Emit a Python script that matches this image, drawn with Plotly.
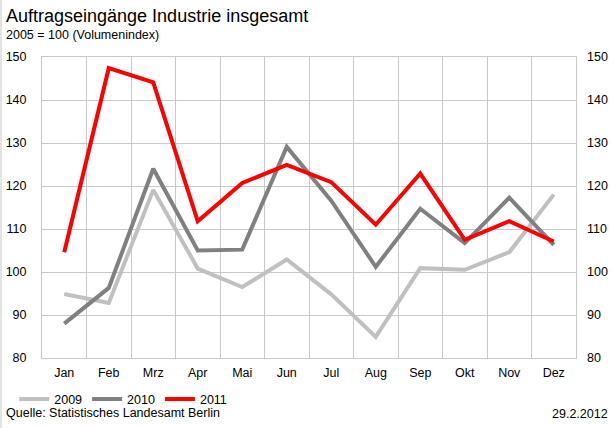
import plotly.graph_objects as go

months = ["Jan", "Feb", "Mrz", "Apr", "Mai", "Jun", "Jul", "Aug", "Sep", "Okt", "Nov", "Dez"]
v2009 = [94.9, 92.8, 119.1, 100.8, 96.5, 102.9, 94.8, 84.9, 100.9, 100.5, 104.6, 118.0]
v2010 = [88.0, 96.3, 124.0, 105.0, 105.2, 129.1, 116.6, 101.2, 114.7, 106.7, 117.3, 106.3]
v2011 = [104.6, 147.4, 144.1, 111.8, 120.7, 124.9, 120.9, 111.0, 122.9, 107.5, 111.8, 107.1]
series_names = ["2009", "2010", "2011"]
colors = ["#c0c0c0", "#808080", "#ff0000"]
yticks = [80, 90, 100, 110, 120, 130, 140, 150]

FONT = "Liberation Sans, Arial, sans-serif"
fig = go.Figure()
for name, vals, col in zip(series_names, [v2009, v2010, v2011], colors):
    fig.add_trace(go.Scatter(x=months, y=vals, name=name, mode="lines",
                             line=dict(color=col, width=4)))
# invisible trace for right axis
fig.add_trace(go.Scatter(x=months, y=v2009, yaxis="y2", showlegend=False,
                         mode="lines", line=dict(width=0), opacity=0, hoverinfo="skip"))

grid = "#c8c8c8"
fig.update_layout(
    width=613, height=428,
    margin=dict(l=42, r=37, t=57, b=70, autoexpand=False),
    paper_bgcolor="white", plot_bgcolor="white",
    font=dict(family=FONT, size=12.5, color="#000"),
    showlegend=True,
    legend=dict(orientation="h", x=-0.052, xanchor="left", y=-0.088, yanchor="top",
                font=dict(size=12.5), bgcolor="rgba(0,0,0,0)", itemwidth=30,
                tracegroupgap=0),
    xaxis=dict(type="category", tickson="boundaries", range=[-0.5, 11.5], automargin=False,
               showgrid=True, gridcolor=grid,
               gridwidth=1, showline=True, linecolor=grid, linewidth=1, mirror=True,
               ticks="", ticklabelstandoff=3, tickfont=dict(size=12.5), zeroline=False),
    yaxis=dict(range=[80, 150], tickvals=yticks, showgrid=True, gridcolor=grid, automargin=False,
               gridwidth=1, showline=True, linecolor=grid, linewidth=1, mirror=True,
               ticks="", ticklabelstandoff=12, tickfont=dict(size=12.5), zeroline=False),
    yaxis2=dict(range=[80, 150], tickvals=yticks, overlaying="y", side="right", automargin=False,
                showgrid=False, showline=False, ticks="", ticklabelstandoff=10,
                tickfont=dict(size=12.5), zeroline=False),
)
fig.add_annotation(text="Auftragseingänge Industrie insgesamt", xref="paper", yref="paper",
                   x=-42/534, y=1+(57-16)/301, xanchor="left", yanchor="middle",
                   showarrow=False, font=dict(size=18), xshift=4)
fig.add_annotation(text="2005 = 100 (Volumenindex)", xref="paper", yref="paper",
                   x=-42/534, y=1+(57-35)/301, xanchor="left", yanchor="middle",
                   showarrow=False, font=dict(size=12.5), xshift=4)
fig.add_annotation(text="Quelle: Statistisches Landesamt Berlin", xref="paper", yref="paper",
                   x=-42/534, y=-(413-358)/301, xanchor="left", yanchor="middle",
                   showarrow=False, font=dict(size=12.5), xshift=4)
fig.add_annotation(text="29.2.2012", xref="paper", yref="paper",
                   x=1+37/534, y=-(414-358)/301, xanchor="right", yanchor="middle",
                   showarrow=False, font=dict(size=12.5), xshift=-3)
fig.add_shape(type="line", xref="paper", yref="paper", x0=-41/534, x1=-41/534,
              y0=-70/301, y1=1+57/301, line=dict(color="#c8c8c8", width=1))
fig.write_html("out.html", config={"displayModeBar": False},
               post_script="document.body.style.margin='0';document.body.style.overflow='hidden';")
